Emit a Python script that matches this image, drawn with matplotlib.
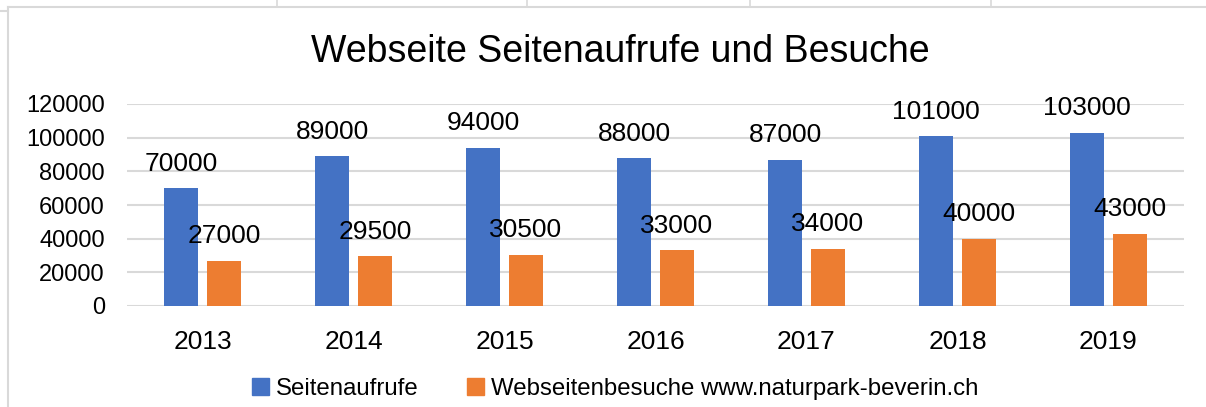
import matplotlib
matplotlib.use("Agg")
import matplotlib.pyplot as plt
from matplotlib.patches import Patch
from matplotlib.lines import Line2D

plt.rcParams["font.family"] = ["Liberation Sans", "DejaVu Sans"]

years = ["2013", "2014", "2015", "2016", "2017", "2018", "2019"]
aufrufe = [70000, 89000, 94000, 88000, 87000, 101000, 103000]
besuche = [27000, 29500, 30500, 33000, 34000, 40000, 43000]
y_ticks = [0, 20000, 40000, 60000, 80000, 100000, 120000]
series_names = ["Seitenaufrufe", "Webseitenbesuche www.naturpark-beverin.ch"]

BLUE, ORANGE, GRID, FRAME = "#4472C4", "#ED7D31", "#D9D9D9", "#D9D9D9"

W, H = 1206, 407
fig = plt.figure(figsize=(W / 100, H / 100), dpi=100)

# pixel box of the plot area: left 127, right 1184, top 104 (120000), bottom 306 (0)
ax = fig.add_axes([127 / W, (H - 306) / H, (1184 - 127) / W, (306 - 104) / H])

x = list(range(len(years)))
bw, off = 0.224, 0.142
b1 = ax.bar([i - off for i in x], aufrufe, bw, color=BLUE, zorder=3)
b2 = ax.bar([i + off for i in x], besuche, bw, color=ORANGE, zorder=3)

for bars, vals in ((b1, aufrufe), (b2, besuche)):
    for rect, v in zip(bars, vals):
        ax.annotate(f"{v}", (rect.get_x() + rect.get_width() / 2, v),
                    xytext=(0, 12.5), textcoords="offset points",
                    ha="center", va="baseline", fontsize=19, zorder=4)

ax.set_xlim(-0.5, len(years) - 0.5)
ax.set_ylim(0, 120000)
ax.set_yticks(y_ticks)
ax.set_yticklabels([str(t) for t in y_ticks], fontsize=17)
ax.set_xticks(x)
ax.set_xticklabels(years, fontsize=19)
ax.tick_params(axis="y", length=0, pad=16)
ax.tick_params(axis="x", length=0, pad=17)
ax.grid(axis="y", color=GRID, lw=1.5, zorder=0)
for s in ax.spines.values():
    s.set_visible(False)

fig.text(620 / W, 1 - 52 / H, "Webseite Seitenaufrufe und Besuche",
         ha="center", va="center", fontsize=27)

handles = [Patch(color=BLUE), Patch(color=ORANGE)]
fig.legend(handles, series_names, loc="center", ncol=2,
           bbox_to_anchor=(615 / W, 1 - 389 / H), frameon=False, fontsize=17.3,
           handlelength=0.7, handleheight=0.7, handletextpad=0.3,
           columnspacing=2.0)

# chart frame and bit of the table above it
fig.add_artist(Line2D([8 / W, 1.0], [1 - 7 / H] * 2, color=FRAME, lw=1.5))
fig.add_artist(Line2D([8 / W] * 2, [0, 1 - 7 / H], color=FRAME, lw=1.5))
fig.add_artist(Line2D([0, 8 / W], [1 - 11 / H] * 2, color=FRAME, lw=1.5))
for px in (277, 527, 750, 991):
    fig.add_artist(Line2D([px / W] * 2, [1 - 7 / H, 1.0], color=FRAME, lw=1.2))

fig.savefig("out.png", dpi=100)
